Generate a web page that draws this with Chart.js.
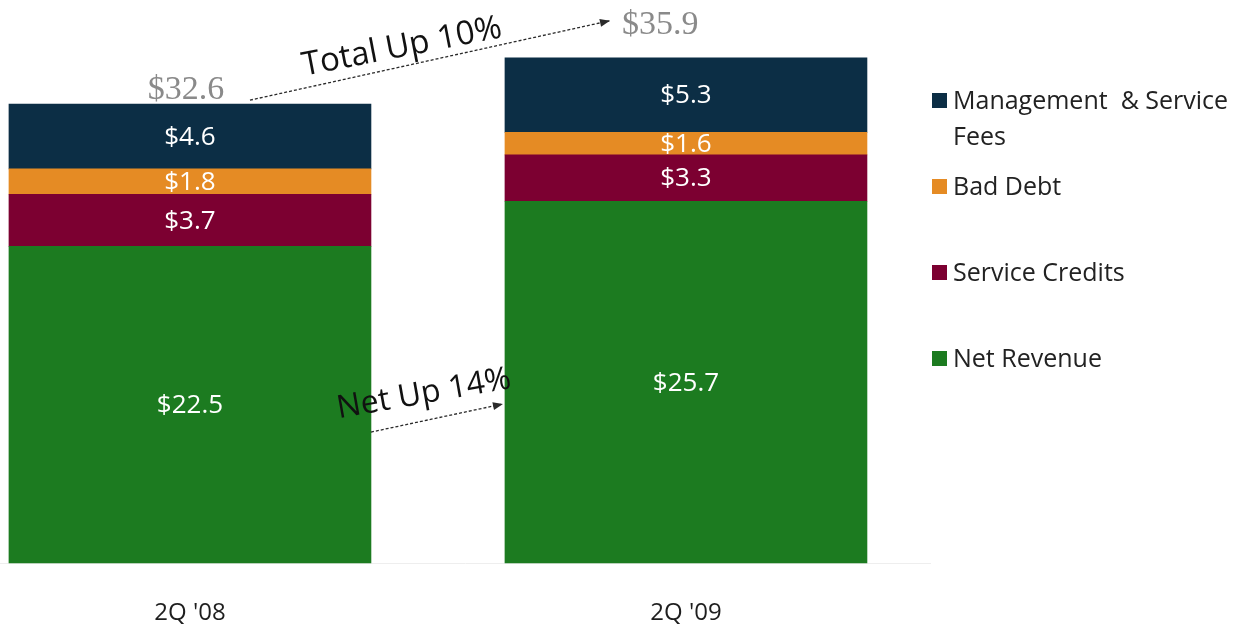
<!DOCTYPE html>
<html lang="en">
<head>
  <meta charset="UTF-8">
  <title>Revenue 2Q '08 vs 2Q '09</title>
  <style>
    body { margin: 0; background: #fff; }
    #wrap { width: 1259px; height: 631px; }
  </style>
</head>
<body>
  <div id="wrap"><canvas id="myChart"></canvas></div>

  <script src="https://cdn.jsdelivr.net/npm/chart.js"></script>

  <script>
    // values ($M)
    const quarters = ["2Q '08", "2Q '09"];
    const netRevenue = [22.5, 25.7];
    const serviceCredits = [3.7, 3.3];
    const badDebt = [1.8, 1.6];
    const mgmtFees = [4.6, 5.3];
    const totals = [32.6, 35.9];
    const notes = ['Total Up 10%', 'Net Up 14%'];

    const sans = '"Open Sans", "Liberation Sans", sans-serif';
    const serif = '"Liberation Serif", "DejaVu Serif", serif';

    const toPoints = arr => arr.map((v, i) => ({ x: i, y: v }));

    const datasets = [
      { label: 'Net Revenue', data: toPoints(netRevenue), backgroundColor: '#1c7b20' },
      { label: 'Service Credits', data: toPoints(serviceCredits), backgroundColor: '#7c0031' },
      { label: 'Bad Debt', data: toPoints(badDebt), backgroundColor: '#e58b24' },
      { label: 'Management  & Service Fees', data: toPoints(mgmtFees), backgroundColor: '#0c2e45' }
    ];
    datasets.forEach(ds => { ds.barThickness = 362; ds.clip = false; });

    function arrow(c, x1, y1, x2, y2) {
      c.save();
      c.strokeStyle = '#2a2a2a';
      c.fillStyle = '#2a2a2a';
      c.lineWidth = 1.3;
      c.setLineDash([3, 2]);
      c.beginPath();
      c.moveTo(x1, y1);
      c.lineTo(x2, y2);
      c.stroke();
      c.setLineDash([]);
      const a = Math.atan2(y2 - y1, x2 - x1);
      c.translate(x2, y2);
      c.rotate(a);
      c.beginPath();
      c.moveTo(0, 0);
      c.lineTo(-10, -4);
      c.lineTo(-10, 4);
      c.closePath();
      c.fill();
      c.restore();
    }

    function slantText(c, txt, x, y, deg, size) {
      c.save();
      c.translate(x, y);
      c.rotate(deg * Math.PI / 180);
      c.font = size + 'px ' + sans;
      c.fillStyle = '#111';
      c.textAlign = 'center';
      c.textBaseline = 'middle';
      c.fillText(txt, 0, 0);
      c.restore();
    }

    const extras = {
      id: 'extras',
      afterDatasetsDraw(chart) {
        const c = chart.ctx;
        const y = chart.scales.y;

        // segment values
        c.save();
        c.font = '26px ' + sans;
        c.fillStyle = '#fff';
        c.textAlign = 'center';
        c.textBaseline = 'middle';
        chart.data.datasets.forEach((ds, di) => {
          chart.getDatasetMeta(di).data.forEach((bar, i) => {
            c.fillText('$' + ds.data[i].y.toFixed(1), bar.x, (bar.y + bar.base) / 2 + 1);
          });
        });
        c.restore();

        // totals
        const bars = chart.getDatasetMeta(3).data;
        const half = bars[0].width / 2;
        c.save();
        c.font = '34px ' + serif;
        c.fillStyle = '#8a8a8a';
        c.textBaseline = 'alphabetic';
        c.textAlign = 'center';
        c.fillText('$' + totals[0].toFixed(1), bars[0].x - 4, y.getPixelForValue(totals[0]) - 5);
        c.textAlign = 'left';
        c.fillText('$' + totals[1].toFixed(1), bars[1].x - 64, y.getPixelForValue(totals[1]) - 24);
        c.restore();

        // growth notes
        arrow(c, bars[0].x + 60, y.getPixelForValue(totals[0]) - 4,
                 bars[1].x - 76, y.getPixelForValue(totals[1]) - 37);
        slantText(c, notes[0], bars[0].x + 212, y.getPixelForValue(totals[0]) - 57, -11, 33);

        arrow(c, bars[0].x + half, y.getPixelForValue(9.3),
                 bars[1].x - bars[1].width / 2 - 2, y.getPixelForValue(11.3));
        slantText(c, notes[1], bars[0].x + 234, y.getPixelForValue(12.0), -10, 32);

        // legend, top segment first
        const lx = chart.chartArea.right + 2;
        const rows = [101, 187, 273, 359];
        c.save();
        c.font = '25px ' + sans;
        c.textBaseline = 'middle';
        c.textAlign = 'left';
        datasets.slice().reverse().forEach((ds, k) => {
          const ty = rows[k];
          c.fillStyle = ds.backgroundColor;
          c.fillRect(lx, ty - 8, 15, 15);
          c.fillStyle = '#222';
          const words = ds.label.split(' ');
          const maxW = chart.width - lx - 24;
          let line = '', ly = ty + 1;
          words.forEach(w => {
            const test = line ? line + ' ' + w : w;
            if (c.measureText(test).width > maxW && line) {
              c.fillText(line, lx + 21, ly);
              line = w;
              ly += 36;
            } else {
              line = test;
            }
          });
          c.fillText(line, lx + 21, ly);
        });
        c.restore();
      }
    };

    const ctx = document.getElementById('myChart').getContext('2d');
    new Chart(ctx, {
      type: 'bar',
      data: { datasets: datasets },
      plugins: [extras],
      options: {
        responsive: true,
        maintainAspectRatio: false,
        animation: false,
        layout: { padding: { left: 0, right: 329, top: 0, bottom: 0 } },
        plugins: {
          legend: { display: false },
          tooltip: { enabled: false }
        },
        scales: {
          x: {
            type: 'linear',
            offset: false,
            stacked: true,
            min: -0.383,
            max: 1.492,
            grid: { display: false },
            border: { display: true, color: '#eeeeee' },
            afterBuildTicks: s => { s.ticks = quarters.map((q, i) => ({ value: i })); },
            afterFit: s => { s.height = 68; },
            ticks: {
              callback: v => quarters[v],
              padding: 28,
              maxRotation: 0,
              color: '#1e1e1e',
              font: { family: sans, size: 24 }
            }
          },
          y: {
            stacked: true,
            display: false,
            min: 0,
            max: 40
          }
        }
      }
    });
  </script>
</body>
</html>
